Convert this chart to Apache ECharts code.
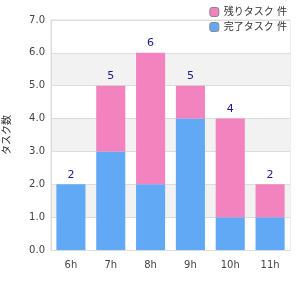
<!DOCTYPE html>
<html>
<head>
<meta charset="utf-8">
<script src="https://cdn.jsdelivr.net/npm/echarts@6/dist/echarts.min.js"></script>
<style>
  html, body { margin: 0; padding: 0; background: #fff; }
  #chart { width: 300px; height: 300px; }
</style>
</head>
<body>
<div id="chart"></div>
<script>
var hours = ['6h', '7h', '8h', '9h', '10h', '11h'];
var done_values = [2, 3, 2, 4, 1, 1];
var left_values = [0, 2, 4, 1, 3, 1];
var totals = [2, 5, 6, 5, 4, 2];
var done_name = '完了タスク 件';
var left_name = '残りタスク 件';
var y_title = 'タスク数';

var font = 'DejaVu Sans, Noto Sans CJK JP, sans-serif';

var chart = echarts.init(document.getElementById('chart'));

chart.setOption({
    animation: false,
    textStyle: { fontFamily: font },
    legend: {
        orient: 'vertical',
        right: 8,
        top: 2,
        itemWidth: 9,
        itemHeight: 9,
        itemGap: 5,
        data: [left_name, done_name],
        textStyle: { fontSize: 10, color: '#333', fontFamily: font },
        itemStyle: { borderColor: '#888', borderWidth: 1 }
    },
    grid: {
        left: 51,
        right: 10,
        top: 20,
        bottom: 50,
        containLabel: false,
        outerBoundsMode: 'none',
        show: true,
        borderColor: '#ddd',
        borderWidth: 1
    },
    xAxis: {
        type: 'category',
        data: hours,
        axisLine: { lineStyle: { color: '#ddd' } },
        axisTick: { show: false },
        axisLabel: { color: '#444', fontSize: 10, margin: 10 }
    },
    yAxis: {
        type: 'value',
        min: 0,
        max: 7,
        interval: 1,
        name: y_title,
        nameLocation: 'middle',
        nameGap: 39,
        nameTextStyle: { fontSize: 10, color: '#333' },
        axisLine: { show: true, lineStyle: { color: '#ddd' } },
        axisTick: { show: false },
        axisLabel: {
            color: '#444',
            fontSize: 10,
            margin: 6,
            formatter: function (v) { return v.toFixed(1); }
        },
        splitLine: { lineStyle: { color: '#ddd' } },
        splitArea: { show: true, areaStyle: { color: ['#fff', '#f2f2f2'] } }
    },
    series: [
        {
            name: done_name,
            type: 'bar',
            stack: 'total',
            barCategoryGap: '27%',
            data: done_values,
            itemStyle: { color: '#62a9f5' }
        },
        {
            name: left_name,
            type: 'bar',
            stack: 'total',
            barCategoryGap: '27%',
            data: left_values,
            itemStyle: { color: '#f283be' },
            label: {
                show: true,
                position: 'top',
                distance: 4,
                color: '#1a1a8c',
                fontSize: 11,
                formatter: function (p) { return totals[p.dataIndex]; }
            }
        }
    ]
});
</script>
</body>
</html>
